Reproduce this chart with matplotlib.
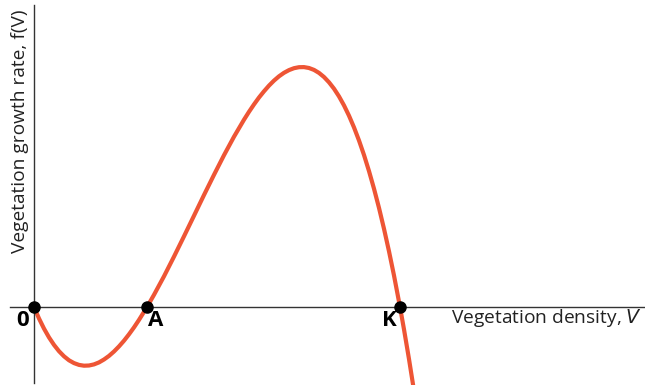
import numpy as np
import matplotlib.pyplot as plt

# Curve (V in axis units, f in axis units)
V = [0.0, 0.05, 0.1, 0.15, 0.2, 0.25, 0.3, 0.35, 0.4, 0.45, 0.5, 0.55, 0.6, 0.65,
     0.7, 0.75, 0.8, 0.85, 0.9, 0.95, 1.0, 1.05, 1.13, 1.2, 1.3, 1.4, 1.5, 1.6,
     1.7, 1.8, 1.9, 2.0, 2.1, 2.15, 2.2, 2.25, 2.3, 2.35, 2.4, 2.45, 2.5, 2.55,
     2.6, 2.65, 2.7, 2.75, 2.8, 2.85, 2.9, 2.95, 3.0, 3.05, 3.1, 3.15, 3.2, 3.25,
     3.3, 3.35, 3.4, 3.45, 3.5, 3.55, 3.6, 3.66, 3.7, 3.75, 3.8]
f = [0.0, -0.115, -0.216, -0.304, -0.379, -0.442, -0.493, -0.533, -0.561, -0.579,
     -0.587, -0.585, -0.574, -0.554, -0.525, -0.489, -0.445, -0.394, -0.337, -0.273,
     -0.204, -0.129, 0.0, 0.122, 0.307, 0.504, 0.707, 0.913, 1.120, 1.322, 1.518,
     1.703, 1.873, 1.952, 2.026, 2.095, 2.157, 2.214, 2.264, 2.307, 2.342, 2.369,
     2.388, 2.398, 2.399, 2.390, 2.371, 2.341, 2.300, 2.247, 2.183, 2.106, 2.016,
     1.913, 1.796, 1.665, 1.520, 1.359, 1.183, 0.991, 0.782, 0.557, 0.315, 0.0,
     -0.224, -0.521, -0.837]

# Equilibrium points
eq_V = [0.0, 1.13, 3.66]
eq_labels = ["0", "A", "K"]

plt.rcParams["font.family"] = ["Open Sans", "DejaVu Sans"]

fig = plt.figure(figsize=(6.45, 3.85), dpi=100)
ax = fig.add_axes([0, 0, 1, 1])
ax.set_xlim(-0.34, 6.11)
ax.set_ylim(-0.78, 3.07)

ax.plot(V, f, color="#ee5535", lw=3, solid_capstyle="butt",
        solid_joinstyle="round", zorder=2)
ax.plot(eq_V, [0] * len(eq_V), "o", color="black", ms=8, zorder=3)

for s in ["top", "right"]:
    ax.spines[s].set_visible(False)
ax.spines["left"].set_position(("data", 0))
ax.spines["bottom"].set_position(("data", 0))
ax.spines["left"].set_bounds(-0.76, 3.02)
ax.spines["bottom"].set_bounds(-0.24, 6.11)
for s in ["left", "bottom"]:
    ax.spines[s].set_color("#333333")
    ax.spines[s].set_linewidth(1.0)
ax.set_xticks([])
ax.set_yticks([])

offsets = [-0.11, 0.09, -0.11]
for v, lab, dx in zip(eq_V, eq_labels, offsets):
    ax.text(v + dx, -0.03, lab, ha="center", va="top", fontsize=16, fontweight="bold")

ax.text(6.08, 0.0, "Vegetation density, $\\mathit{V}$", ha="right", va="top",
        fontsize=13.8, color="#222222")
ax.text(-0.14, 1.755, "Vegetation growth rate, f(V)", ha="center", va="center",
        rotation=90, fontsize=13.8, color="#222222")

fig.savefig("out.png", dpi=100)
